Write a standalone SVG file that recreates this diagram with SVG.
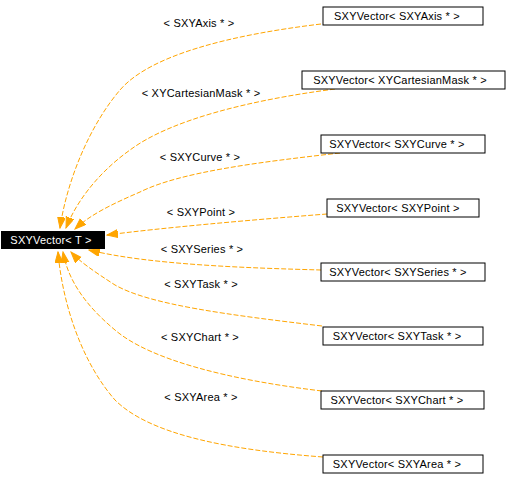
<svg xmlns="http://www.w3.org/2000/svg" width="509" height="490" viewBox="0 0 509 490">
<style>
text{font-family:"Liberation Sans",Arial,sans-serif;font-size:11px;letter-spacing:0.2px;fill:#000}
.n rect{fill:#fff;stroke:#000;stroke-width:1}
.e path{fill:none;stroke:#ffa500;stroke-width:1;stroke-dasharray:5,2;marker-end:url(#ah)}
.lbl{text-anchor:middle}
</style>
<defs>
<marker id="ah" markerUnits="userSpaceOnUse" markerWidth="12" markerHeight="10" refX="11" refY="4" orient="auto">
<path d="M0,0 L11,4 L0,8 Z" fill="#ffa500" stroke="#ffa500"/>
</marker>
</defs>
<rect width="509" height="490" fill="#fff"/>
<g id="edges" class="e">
<path d="M321,24 C230,35 150,55 120,90 C90,125 67,180 60,228"/>
<path d="M335,89 C250,100 170,120 130,150 C95,175 75,205 66,228"/>
<path d="M340,153 C260,162 180,172 140,192 C110,205 90,215 75,229"/>
<path d="M327,214 C250,220 160,228 107,235"/>
<path d="M321,270 C250,268 150,265 89,250"/>
<path d="M322,326 C230,315 150,305 115,285 C95,272 80,262 71,252"/>
<path d="M322,391 C230,380 150,360 115,330 C85,305 68,280 63,252"/>
<path d="M323,457 C230,450 150,435 115,400 C80,360 62,300 58,252"/>
</g>
<g id="labels">
<text class="lbl" x="199" y="27">&lt; SXYAxis * &gt;</text>
<text class="lbl" x="201" y="97">&lt; XYCartesianMask * &gt;</text>
<text class="lbl" x="200" y="161">&lt; SXYCurve * &gt;</text>
<text class="lbl" x="201" y="216">&lt; SXYPoint &gt;</text>
<text class="lbl" x="202" y="253">&lt; SXYSeries * &gt;</text>
<text class="lbl" x="201" y="288">&lt; SXYTask * &gt;</text>
<text class="lbl" x="200" y="341">&lt; SXYChart * &gt;</text>
<text class="lbl" x="201" y="401">&lt; SXYArea * &gt;</text>
</g>
<g id="main">
<rect x="1" y="231" width="104" height="18" fill="#000"/>
<text x="51" y="244" text-anchor="middle" style="fill:#fff">SXYVector&lt; T &gt;</text>
</g>
<g id="n-axis" class="n"><rect x="323" y="7" width="160" height="18"/><text x="397" y="20" text-anchor="middle">SXYVector&lt; SXYAxis * &gt;</text></g>
<g id="n-mask" class="n"><rect x="302" y="71" width="203" height="18"/><text x="400" y="84" text-anchor="middle">SXYVector&lt; XYCartesianMask * &gt;</text></g>
<g id="n-curve" class="n"><rect x="321" y="135" width="164" height="18"/><text x="397" y="148" text-anchor="middle">SXYVector&lt; SXYCurve * &gt;</text></g>
<g id="n-point" class="n"><rect x="327" y="199" width="152" height="18"/><text x="398" y="212" text-anchor="middle">SXYVector&lt; SXYPoint &gt;</text></g>
<g id="n-series" class="n"><rect x="321" y="263" width="164" height="18"/><text x="398" y="276" text-anchor="middle">SXYVector&lt; SXYSeries * &gt;</text></g>
<g id="n-task" class="n"><rect x="323" y="327" width="160" height="18"/><text x="397" y="340" text-anchor="middle">SXYVector&lt; SXYTask * &gt;</text></g>
<g id="n-chart" class="n"><rect x="321" y="391" width="163" height="18"/><text x="397" y="404" text-anchor="middle">SXYVector&lt; SXYChart * &gt;</text></g>
<g id="n-area" class="n"><rect x="323" y="455" width="160" height="18"/><text x="397" y="468" text-anchor="middle">SXYVector&lt; SXYArea * &gt;</text></g>
</svg>
